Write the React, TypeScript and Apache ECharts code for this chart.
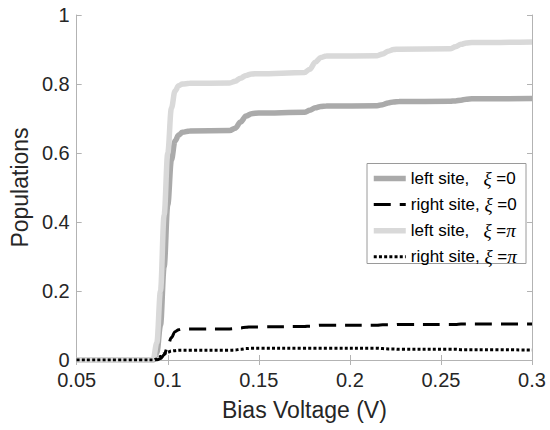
import React, { useEffect, useRef } from "react";
import * as echarts from "echarts";

const voltage = [
  0.05, 0.09, 0.092, 0.094, 0.096, 0.098, 0.1, 0.102, 0.104, 0.106, 0.108, 0.112,
  0.134, 0.137, 0.14, 0.143, 0.146, 0.15, 0.175, 0.178, 0.181, 0.184, 0.187,
  0.215, 0.218, 0.221, 0.224, 0.227, 0.255, 0.258, 0.261, 0.264, 0.267, 0.27, 0.3,
];

const leftSiteXi0 = [
  0, 0, 0, 0.02, 0.1, 0.27, 0.45, 0.58, 0.635, 0.652, 0.66, 0.664,
  0.665, 0.672, 0.69, 0.707, 0.714, 0.716, 0.718, 0.724, 0.731, 0.735, 0.736,
  0.737, 0.74, 0.745, 0.748, 0.749, 0.75, 0.751, 0.753, 0.756, 0.757, 0.757, 0.758,
];

const rightSiteXi0 = [
  0, 0, 0, 0, 0.004, 0.015, 0.04, 0.065, 0.082, 0.088, 0.09, 0.09,
  0.09, 0.091, 0.093, 0.095, 0.096, 0.096, 0.097, 0.098, 0.1, 0.101, 0.101,
  0.101, 0.102, 0.102, 0.102, 0.103, 0.103, 0.103, 0.104, 0.104, 0.104, 0.104, 0.104,
];

const leftSiteXiPi = [
  0, 0, 0.003, 0.05, 0.2, 0.42, 0.6, 0.73, 0.78, 0.795, 0.8, 0.802,
  0.803, 0.808, 0.817, 0.825, 0.829, 0.83, 0.833, 0.843, 0.863, 0.877, 0.881,
  0.882, 0.887, 0.895, 0.9, 0.901, 0.902, 0.908, 0.915, 0.919, 0.92, 0.92, 0.922,
];

const rightSiteXiPi = [
  0, 0, 0, 0.003, 0.01, 0.018, 0.023, 0.026, 0.027, 0.028, 0.028, 0.028,
  0.028, 0.029, 0.031, 0.033, 0.034, 0.034, 0.034, 0.034, 0.034, 0.034, 0.034,
  0.034, 0.033, 0.032, 0.032, 0.031, 0.031, 0.031, 0.03, 0.03, 0.03, 0.03, 0.029,
];

const seriesNames = [
  "left site,   ξ =0",
  "right site, ξ =0",
  "left site,   ξ =π",
  "right site, ξ =π",
];

const xTicks = ["0.05", "0.1", "0.15", "0.2", "0.25", "0.3"];
const yTicks = ["0", "0.2", "0.4", "0.6", "0.8", "1"];

const FONT = "'Liberation Sans', Arial, sans-serif";
const SERIF = "'Liberation Serif', 'Times New Roman', serif";

function pairs(vals: number[]) {
  return voltage.map((v, i) => [v, vals[i]]);
}

function richName(name: string) {
  let out = "";
  let buf = "";
  for (const ch of name) {
    if (ch === "ξ" || ch === "π") {
      if (buf) out += "{a|" + buf + "}";
      buf = "";
      out += "{s|" + ch + "}";
    } else {
      buf += ch;
    }
  }
  if (buf) out += "{a|" + buf + "}";
  return out;
}

export default function App() {
  const ref = useRef<HTMLDivElement>(null);
  useEffect(() => {
    if (!ref.current) return;
    const chart = echarts.init(ref.current, undefined, { renderer: "svg" });
    const axisLineColor = "#b3b3b3";
    const tickLabelFmt = (v: number) => {
      const i = Math.round((v - 0.05) / 0.05);
      return xTicks[i] ?? String(v);
    };
    const yLabelFmt = (v: number) => {
      const i = Math.round(v / 0.2);
      return yTicks[i] ?? String(v);
    };
    const common = {
      type: "line",
      showSymbol: false,
      symbol: "none",
      smooth: 0.35,
      smoothMonotone: "x",
    } as any;
    chart.setOption({
      animation: false,
      backgroundColor: "#ffffff",
      grid: { left: 74, right: 18, top: 15, bottom: 70, containLabel: false },
      graphic: [
        {
          type: "rect",
          z: 3,
          shape: { x: 367, y: 163.5, width: 159, height: 100 },
          style: { fill: "#ffffff", stroke: "#9a9a9a", lineWidth: 1 },
        },
      ],
      legend: {
        orient: "vertical",
        left: 367,
        top: 163,
        z: 5,
        padding: [6, 4, 4, 4],
        itemGap: 7.1,
        itemWidth: 32,
        itemHeight: 20,
        backgroundColor: "transparent",
        borderWidth: 0,
        data: seriesNames,
        itemStyle: { opacity: 0, borderWidth: 0 },
        lineStyle: { width: "inherit" },
        formatter: (name: string) => richName(name),
        textStyle: {
          fontFamily: FONT,
          fontSize: 17,
          color: "#000",
          rich: {
            a: { fontFamily: FONT, fontSize: 17, color: "#000" },
            s: { fontFamily: SERIF, fontStyle: "italic", fontSize: 19, color: "#000" },
          },
        },
      },
      xAxis: [
        {
          type: "value",
          min: 0.05,
          max: 0.3,
          interval: 0.05,
          name: "Bias Voltage (V)",
          nameLocation: "middle",
          nameGap: 38,
          nameTextStyle: { fontFamily: FONT, fontSize: 23, color: "#262626" },
          axisLine: { lineStyle: { color: axisLineColor, width: 1 } },
          axisTick: { inside: true, length: 5, lineStyle: { color: axisLineColor } },
          axisLabel: {
            fontFamily: FONT,
            fontSize: 20,
            lineHeight: 16,
            color: "#262626",
            margin: 12,
            formatter: tickLabelFmt,
          },
          splitLine: { show: false },
        },
        {
          type: "value",
          position: "top",
          min: 0.05,
          max: 0.3,
          interval: 0.05,
          axisLine: { lineStyle: { color: axisLineColor, width: 1 } },
          axisTick: { inside: true, length: 5, lineStyle: { color: axisLineColor } },
          axisLabel: { show: false },
          splitLine: { show: false },
        },
      ],
      yAxis: [
        {
          type: "value",
          min: 0,
          max: 1,
          interval: 0.2,
          name: "Populations",
          nameLocation: "middle",
          nameGap: 42,
          nameTextStyle: { fontFamily: FONT, fontSize: 23, color: "#262626" },
          axisLine: { show: true, lineStyle: { color: axisLineColor, width: 1 } },
          axisTick: { show: true, inside: true, length: 5, lineStyle: { color: axisLineColor } },
          axisLabel: {
            fontFamily: FONT,
            fontSize: 20,
            lineHeight: 14,
            color: "#262626",
            margin: 7,
            formatter: yLabelFmt,
          },
          splitLine: { show: false },
        },
        {
          type: "value",
          position: "right",
          min: 0,
          max: 1,
          interval: 0.2,
          axisLine: { show: true, lineStyle: { color: axisLineColor, width: 1 } },
          axisTick: { show: true, inside: true, length: 5, lineStyle: { color: axisLineColor } },
          axisLabel: { show: false },
          splitLine: { show: false },
        },
      ],
      series: [
        {
          ...common,
          name: seriesNames[0],
          data: pairs(leftSiteXi0),
          lineStyle: { color: "#aaaaaa", width: 5.5, cap: "butt" },
          itemStyle: { color: "#aaaaaa" },
        },
        {
          ...common,
          name: seriesNames[1],
          data: pairs(rightSiteXi0),
          lineStyle: { color: "#000000", width: 3, type: [17, 9], cap: "butt" },
          itemStyle: { color: "#000000" },
        },
        {
          ...common,
          name: seriesNames[2],
          data: pairs(leftSiteXiPi),
          lineStyle: { color: "#d9d9d9", width: 5.5, cap: "butt" },
          itemStyle: { color: "#d9d9d9" },
        },
        {
          ...common,
          name: seriesNames[3],
          data: pairs(rightSiteXiPi),
          lineStyle: { color: "#000000", width: 3, type: [3, 2.2], cap: "butt" },
          itemStyle: { color: "#000000" },
        },
      ],
    });
    return () => chart.dispose();
  }, []);
  return <div ref={ref} style={{ width: 550, height: 430, position: "absolute", left: 0, top: 0 }} />;
}
